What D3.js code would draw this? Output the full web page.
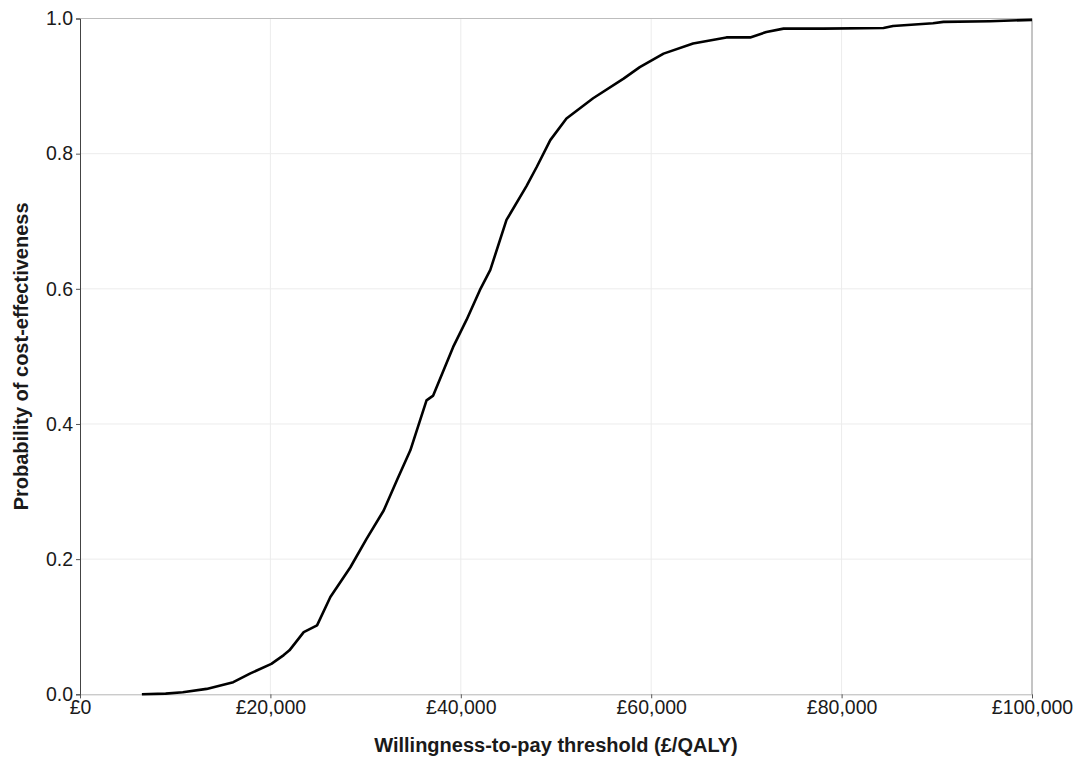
<!DOCTYPE html>
<html><head><meta charset="utf-8">
<script src="https://cdn.jsdelivr.net/npm/d3@7"></script>
<style>body{margin:0;background:#fff;} text{font-family:"Liberation Sans",Arial,sans-serif;}</style>
</head><body>
<svg id="c" width="1079" height="758"></svg>
<script>
const wtp = [6500, 9000, 10800, 13300, 16100, 17900, 20100, 21400, 22000, 23500, 24900, 26300, 28400, 30100, 31900, 33300, 34700, 36400, 37100, 39200, 40600, 42000, 43100, 44800, 46900, 48000, 49400, 51100, 53900, 57100, 58800, 61300, 64400, 67900, 70400, 72100, 73900, 78100, 84400, 85400, 89600, 90700, 95600, 100000];
const prob = [0, 0.001, 0.003, 0.008, 0.018, 0.031, 0.045, 0.058, 0.065, 0.092, 0.102, 0.144, 0.188, 0.230, 0.272, 0.317, 0.361, 0.435, 0.442, 0.514, 0.554, 0.598, 0.628, 0.702, 0.752, 0.781, 0.820, 0.852, 0.882, 0.911, 0.928, 0.948, 0.963, 0.972, 0.972, 0.980, 0.985, 0.985, 0.986, 0.989, 0.993, 0.995, 0.996, 0.998];
const xTicks = [0, 20000, 40000, 60000, 80000, 100000];
const yTicks = [0, 0.2, 0.4, 0.6, 0.8, 1.0];
const xTitle = "Willingness-to-pay threshold (£/QALY)";
const yTitle = "Probability of cost-effectiveness";

const svg = d3.select("#c");
const L = 80, R = 1032, T = 18.5, B = 694.3;
const x = d3.scaleLinear().domain([0, 100000]).range([L, R]);
const y = d3.scaleLinear().domain([0, 1]).range([B, T]);

// gridlines
svg.append("g").selectAll("line").data(xTicks.slice(1, -1)).join("line")
  .attr("x1", d => x(d)).attr("x2", d => x(d)).attr("y1", T).attr("y2", B)
  .attr("stroke", "#ececec").attr("stroke-width", 1);
svg.append("g").selectAll("line").data(yTicks.slice(1, -1)).join("line")
  .attr("x1", L).attr("x2", R).attr("y1", d => y(d)).attr("y2", d => y(d))
  .attr("stroke", "#ececec").attr("stroke-width", 1);

// frame top/right
svg.append("line").attr("x1", L).attr("x2", R).attr("y1", T).attr("y2", T).attr("stroke", "#bdbdbd");
svg.append("line").attr("x1", R).attr("x2", R).attr("y1", T).attr("y2", B).attr("stroke", "#8a8a8a");

// axes
const fmt = d => "£" + d3.format(",")(d);
const xAxis = svg.append("g").attr("transform", `translate(0,${B})`)
  .call(d3.axisBottom(x).tickValues(xTicks).tickFormat(fmt).tickSizeOuter(0).tickSize(4).tickPadding(2));
xAxis.select(".domain").attr("stroke", "#b5b5b5");
xAxis.selectAll(".tick line").attr("stroke", "#555");
xAxis.selectAll("text").attr("font-size", 19.5).attr("fill", "#1a1a1a")
  .attr("font-family", "Liberation Sans, Arial, sans-serif");

const yAxis = svg.append("g").attr("transform", `translate(${L},0)`)
  .call(d3.axisLeft(y).tickValues(yTicks).tickFormat(d3.format(".1f")).tickSizeOuter(0).tickSize(4).tickPadding(3));
yAxis.select(".domain").attr("stroke", "#444");
yAxis.selectAll(".tick line").attr("stroke", "#555");
yAxis.selectAll("text").attr("font-size", 19.5).attr("fill", "#1a1a1a")
  .attr("font-family", "Liberation Sans, Arial, sans-serif");

// curve
const line = d3.line().x((d, i) => x(wtp[i])).y((d, i) => y(prob[i]));
svg.append("path").datum(prob).attr("d", line)
  .attr("fill", "none").attr("stroke", "#000").attr("stroke-width", 2.6)
  .attr("stroke-linejoin", "round");

// titles
svg.append("text").attr("x", (L + R) / 2).attr("y", 752).attr("text-anchor", "middle")
  .attr("font-size", 20).attr("font-weight", "bold").attr("fill", "#1a1a1a").text(xTitle);
svg.append("text").attr("transform", `translate(28,${(T + B) / 2}) rotate(-90)`).attr("text-anchor", "middle")
  .attr("font-size", 20).attr("font-weight", "bold").attr("fill", "#1a1a1a").text(yTitle);
</script>
</body></html>
